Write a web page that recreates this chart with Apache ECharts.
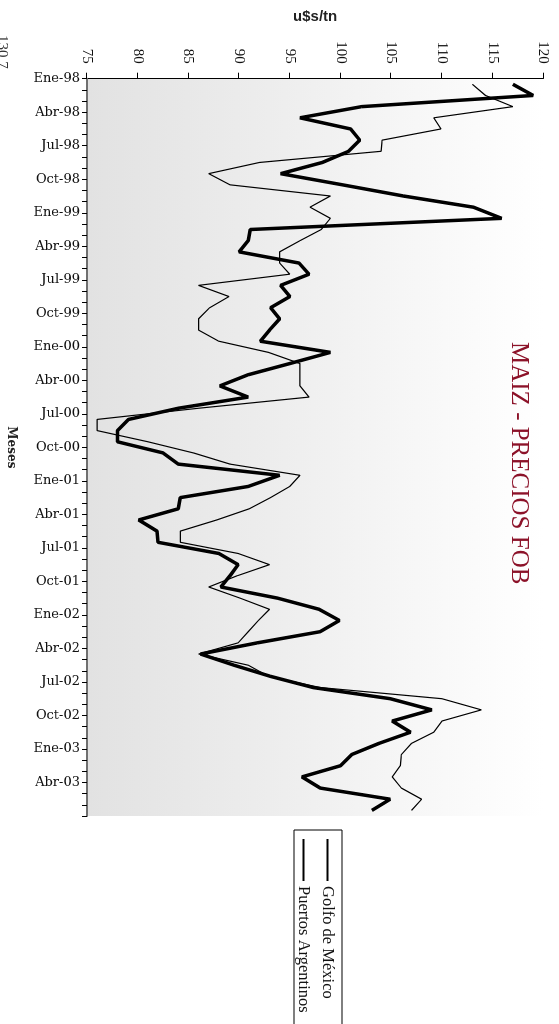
<!DOCTYPE html>
<html>
<head>
<meta charset="utf-8">
<script src="https://cdn.jsdelivr.net/npm/echarts@6/dist/echarts.min.js"></script>
<style>
  html, body { margin: 0; padding: 0; background: #ffffff; overflow: hidden; }
  body { width: 559px; height: 1024px; position: relative; }
  /* the chart is laid out landscape and turned a quarter clockwise onto the page */
  #chart {
    position: absolute; left: 0; top: 0;
    width: 1024px; height: 559px;
    transform-origin: 0 0;
    transform: translate(559px, 0) rotate(90deg);
  }
</style>
</head>
<body>
<div id="chart"></div>
<script>
// Monthly FOB corn prices (u$s/tn), January 1998 to June 2003
const quarterLabels = [
  'Ene-98', 'Abr-98', 'Jul-98', 'Oct-98',
  'Ene-99', 'Abr-99', 'Jul-99', 'Oct-99',
  'Ene-00', 'Abr-00', 'Jul-00', 'Oct-00',
  'Ene-01', 'Abr-01', 'Jul-01', 'Oct-01',
  'Ene-02', 'Abr-02', 'Jul-02', 'Oct-02',
  'Ene-03', 'Abr-03'
];

const seriesNames = ['Golfo de México', 'Puertos Argentinos'];

const golfoMexico = [
  113.0, 114.3, 117.0, 109.2, 109.9, 104.1, 104.0, 92.0, 87.0, 89.1, 99.0, 97.0,
  99.0, 98.1, 96.0, 94.0, 94.0, 95.0, 86.0, 89.0, 87.1, 86.0, 86.0, 88.0,
  92.9, 96.0, 96.0, 96.0, 96.9, 86.0, 76.0, 76.0, 81.0, 85.5, 89.1, 96.0,
  95.0, 93.1, 91.0, 87.8, 84.2, 84.2, 89.9, 93.0, 89.8, 87.0, 90.1, 93.0,
  91.9, 90.9, 89.9, 86.0, 90.9, 92.9, 98.0, 110.0, 113.9, 110.0, 109.2, 107.0,
  106.0, 105.9, 105.1, 106.0, 108.0, 107.0
];

const puertosArgentinos = [
  117.0, 119.0, 102.1, 96.0, 101.0, 101.9, 100.8, 98.2, 94.1, 100.2, 106.2, 113.1,
  115.9, 91.1, 90.9, 90.0, 95.9, 96.9, 94.1, 95.0, 93.1, 94.0, 93.0, 92.1,
  99.0, 95.0, 90.9, 88.1, 90.9, 84.0, 79.1, 78.0, 78.0, 82.5, 84.0, 94.0,
  90.9, 84.2, 84.0, 80.1, 81.9, 82.0, 88.0, 89.9, 89.1, 88.2, 93.8, 97.9,
  99.9, 98.0, 91.8, 86.2, 89.5, 93.1, 97.3, 104.9, 109.0, 105.1, 106.9, 103.8,
  101.1, 100.0, 96.2, 98.0, 104.9, 103.1
];

const monthCount = golfoMexico.length;

// each month occupies one unit on the time axis; values sit in the middle of it
const toPoints = arr => arr.map((v, i) => [i + 0.5, v]);

const chart = echarts.init(document.getElementById('chart'), null, { renderer: 'canvas' });

chart.setOption({
  animation: false,
  backgroundColor: '#ffffff',
  title: {
    text: 'MAIZ - PRECIOS FOB',
    left: 337,
    top: 23,
    textStyle: {
      fontFamily: 'Liberation Serif',
      fontWeight: 'normal',
      fontSize: 25,
      color: '#8c1229'
    }
  },
  legend: {
    orient: 'vertical',
    left: 830,
    top: 217,
    padding: [6, 14, 1, 8],
    itemWidth: 42,
    itemHeight: 14,
    itemGap: 7,
    borderColor: '#000000',
    borderWidth: 1,
    backgroundColor: '#ffffff',
    data: seriesNames,
    // plain line keys, no markers
    itemStyle: { opacity: 0 },
    textStyle: {
      fontFamily: 'Liberation Serif',
      fontSize: 16.5,
      color: '#111111'
    }
  },
  grid: {
    left: 78.7,
    right: 208,
    top: 15.7,
    bottom: 86.7,
    show: true,
    borderWidth: 0,
    backgroundColor: new echarts.graphic.LinearGradient(0, 0, 0, 1, [
      { offset: 0, color: '#ffffff' },
      { offset: 0.15, color: '#fbfbfb' },
      { offset: 0.6, color: '#ededed' },
      { offset: 1, color: '#e2e2e2' }
    ])
  },
  xAxis: {
    type: 'value',
    min: 0,
    max: monthCount,
    interval: 1,
    name: 'Meses',
    nameLocation: 'middle',
    nameGap: 70,
    nameTextStyle: {
      fontFamily: 'DejaVu Serif',
      fontWeight: 'bold',
      fontSize: 12,
      color: '#222222'
    },
    axisLine: { show: true, onZero: false, lineStyle: { color: '#707070', width: 2 } },
    axisTick: { show: true, length: 5, lineStyle: { color: '#000000', width: 1 } },
    splitLine: { show: false },
    axisLabel: {
      rotate: 90,
      margin: 7,
      fontFamily: 'DejaVu Serif',
      fontSize: 13,
      color: '#111111',
      showMinLabel: true,
      showMaxLabel: true,
      formatter: function (v) {
        const k = Math.round(v);
        if (k % 3 !== 0) return '';
        return quarterLabels[k / 3] || '';
      }
    }
  },
  yAxis: {
    type: 'value',
    min: 75,
    max: 120,
    interval: 5,
    name: 'u$s/tn',
    nameLocation: 'middle',
    nameRotate: 90,
    nameGap: 54,
    nameTextStyle: {
      fontFamily: 'Liberation Sans',
      fontWeight: 'bold',
      fontSize: 15,
      color: '#222222'
    },
    axisLine: { show: true, onZero: false, lineStyle: { color: '#000000', width: 1 } },
    axisTick: { show: true, length: 6, lineStyle: { color: '#000000', width: 1 } },
    splitLine: { show: false },
    axisLabel: {
      margin: 15,
      fontFamily: 'Liberation Serif',
      fontSize: 15,
      color: '#111111'
    }
  },
  graphic: [
    {
      type: 'text',
      left: 35,
      top: 550,
      style: {
        text: '130.7',
        font: '15px "Liberation Serif"',
        fill: '#333333'
      }
    }
  ],
  series: [
    {
      name: seriesNames[0],
      type: 'line',
      symbol: 'none',
      data: toPoints(golfoMexico),
      lineStyle: { color: '#000000', width: 1.2 },
      itemStyle: { color: '#000000' }
    },
    {
      name: seriesNames[1],
      type: 'line',
      symbol: 'none',
      data: toPoints(puertosArgentinos),
      lineStyle: { color: '#000000', width: 3.5 },
      itemStyle: { color: '#000000' }
    }
  ]
});
</script>
</body>
</html>
